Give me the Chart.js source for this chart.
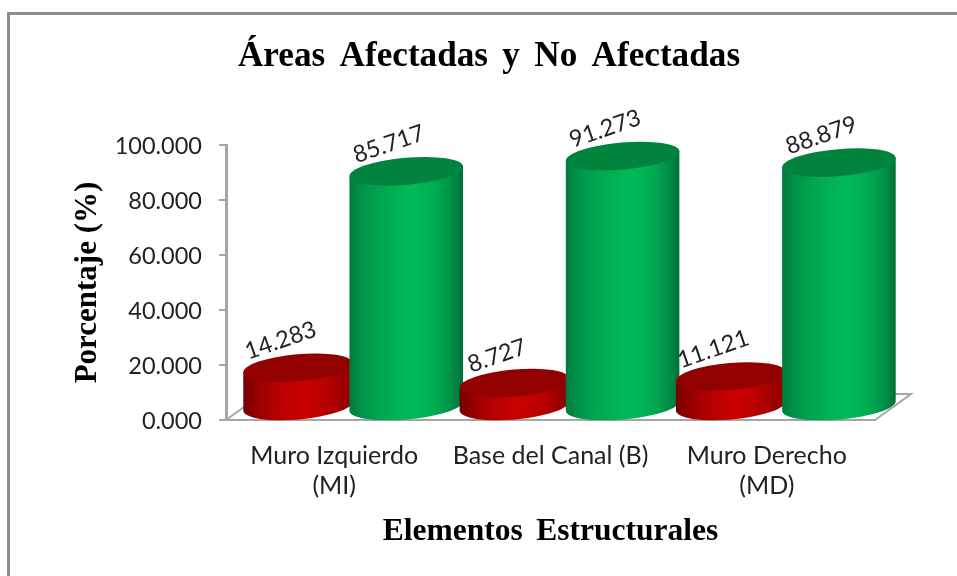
<!DOCTYPE html>
<html>
<head>
<meta charset="utf-8">
<title>Áreas Afectadas y No Afectadas</title>
<script src="https://cdn.jsdelivr.net/npm/chart.js@4"></script>
<style>
  html, body { margin:0; padding:0; background:#fff; overflow:hidden; width:957px; height:576px; }
  canvas { display:block; }
</style>
</head>
<body>
<canvas id="chart" width="957" height="576"></canvas>
<script>
const categories = [['Muro Izquierdo','(MI)'], ['Base del Canal (B)'], ['Muro Derecho','(MD)']];
const afectadas = [14.283, 8.727, 11.121];
const noAfectadas = [85.717, 91.273, 88.879];
const yTicksStep = 20;

const chartTitle = 'Áreas Afectadas y No Afectadas';
const yTitle = 'Porcentaje (%)';
const xTitle = 'Elementos Estructurales';

const LABEL_FONT = 'Lato, sans-serif';
const TITLE_FONT = '"Liberation Serif", serif';
const AXIS_GREY = '#a6a6a6';

// 3D look: columns sit back from the axis by this much
const DEPTH_X = 18, DEPTH_Y = 13;

const gradStops = [0, 0.12, 0.3, 0.55, 0.75, 0.92, 1];
const reds = { body:['#700000','#950000','#b40000','#cc0000','#b80000','#9a0000','#8a0000'], top:'#920000' };
const greens = { body:['#007a3d','#00954a','#00a851','#00bb58','#00ad52','#008a44','#006f36'], top:'#00843d' };

function cylinder(ctx, bar, col, w){
  const cx = bar.x + DEPTH_X;
  const topY = bar.y - DEPTH_Y;
  const botY = bar.base - DEPTH_Y;
  const a = w / 2, b = 13.5, rot = -5 * Math.PI / 180;
  const dx = a * Math.cos(rot), dy = a * Math.sin(rot);

  const grad = ctx.createLinearGradient(cx - a, 0, cx + a, 0);
  gradStops.forEach((s, i) => grad.addColorStop(s, col.body[i]));

  ctx.beginPath();
  ctx.moveTo(cx - dx, topY - dy);
  ctx.lineTo(cx - dx, botY - dy);
  ctx.ellipse(cx, botY, a, b, rot, Math.PI, 0, true);
  ctx.lineTo(cx + dx, topY + dy);
  ctx.closePath();
  ctx.fillStyle = grad;
  ctx.fill();

  ctx.beginPath();
  ctx.ellipse(cx, topY, a, b, rot, 0, Math.PI * 2);
  ctx.fillStyle = col.top;
  ctx.fill();
}

// the source titles have wide gaps between words, the other labels do not
function widenWords(obj, method){
  const fn = obj[method];
  obj[method] = function(...args){
    this.ctx.wordSpacing = '5.5px';
    fn.apply(this, args);
    this.ctx.wordSpacing = '0px';
  };
}

const cylinderPlugin = {
  id:'cylinders',
  afterInit(chart){
    chart.$widened = false;
  },
  afterLayout(chart){
    if(chart.$widened) return;
    chart.$widened = true;
    widenWords(chart.titleBlock, 'draw');
    widenWords(chart.scales.x, 'drawTitle');
  },
  afterDatasetsDraw(chart){
    const { ctx, chartArea:area } = chart;
    const redMeta = chart.getDatasetMeta(0);
    const greenMeta = chart.getDatasetMeta(1);

    // floor
    ctx.save();
    ctx.strokeStyle = AXIS_GREY;
    ctx.lineWidth = 2;
    ctx.beginPath();
    ctx.moveTo(area.left, area.bottom);
    ctx.lineTo(area.left + DEPTH_X * 2, area.bottom - DEPTH_Y * 2);
    ctx.lineTo(area.right + DEPTH_X * 2, area.bottom - DEPTH_Y * 2);
    ctx.lineTo(area.right, area.bottom);
    ctx.stroke();

    // painted left to right so each column covers the one before it
    categories.forEach((c, i) => {
      cylinder(ctx, redMeta.data[i], reds, 110);
      cylinder(ctx, greenMeta.data[i], greens, 114);
    });

    // value labels, tilted like the original
    ctx.font = '23.5px ' + LABEL_FONT;
    ctx.fillStyle = '#222';
    ctx.textAlign = 'center';
    ctx.textBaseline = 'alphabetic';
    [redMeta, greenMeta].forEach((meta, d) => {
      meta.data.forEach((bar, i) => {
        const v = chart.data.datasets[d].data[i];
        ctx.save();
        ctx.translate(bar.x + DEPTH_X - 15, bar.y - DEPTH_Y - 20);
        ctx.rotate(-19 * Math.PI / 180);
        ctx.fillText(v.toFixed(3), 0, 0);
        ctx.restore();
      });
    });
    ctx.restore();
  },
  afterDraw(chart){
    const { ctx } = chart;
    ctx.save();
    // frame only shows on the left and top in the source picture
    ctx.strokeStyle = '#8c8c8c';
    ctx.lineWidth = 3;
    ctx.beginPath();
    ctx.moveTo(8.5, 576);
    ctx.lineTo(8.5, 13.5);
    ctx.lineTo(957, 13.5);
    ctx.stroke();
    ctx.restore();
  }
};

new Chart(document.getElementById('chart'), {
  type:'bar',
  data:{
    labels:categories,
    datasets:[
      { label:'Afectadas', data:afectadas, backgroundColor:'transparent', borderWidth:0 },
      { label:'No Afectadas', data:noAfectadas, backgroundColor:'transparent', borderWidth:0 }
    ]
  },
  options:{
    responsive:false,
    animation:false,
    layout:{ padding:{ left:103, right:82, top:0, bottom:25 } },
    datasets:{ bar:{ barPercentage:1, categoryPercentage:1 } },
    plugins:{
      legend:{ display:false },
      tooltip:{ enabled:false },
      title:{
        display:true,
        text:chartTitle,
        color:'#000',
        font:{ family:TITLE_FONT, size:35.2, weight:'bold', lineHeight:1.2 },
        padding:{ top:36, bottom:66.8 }
      }
    },
    scales:{
      x:{
        afterFit(s){ s.height = 131; },
        grid:{ display:false },
        border:{ color:AXIS_GREY, width:2 },
        ticks:{ color:'#222', padding:13, maxRotation:0, autoSkip:false, font:{ family:LABEL_FONT, size:25, lineHeight:1.2 } },
        title:{ display:true, text:xTitle, color:'#000', font:{ family:TITLE_FONT, size:31.5, weight:'bold' }, padding:{ top:10, bottom:0 } }
      },
      y:{
        min:0,
        max:100,
        afterFit(s){ s.width = 123; },
        grid:{ drawOnChartArea:false, color:AXIS_GREY, lineWidth:2, tickLength:7 },
        border:{ color:AXIS_GREY, width:3 },
        title:{ display:true, text:yTitle, color:'#000', font:{ family:TITLE_FONT, size:31, weight:'bold' }, padding:{ top:-34, bottom:0 } },
        ticks:{ stepSize:yTicksStep, color:'#222', padding:17, labelOffset:1.5, font:{ family:LABEL_FONT, size:23.5 }, callback:(v)=> v.toFixed(3) }
      }
    }
  },
  plugins:[cylinderPlugin]
});
</script>
</body>
</html>
